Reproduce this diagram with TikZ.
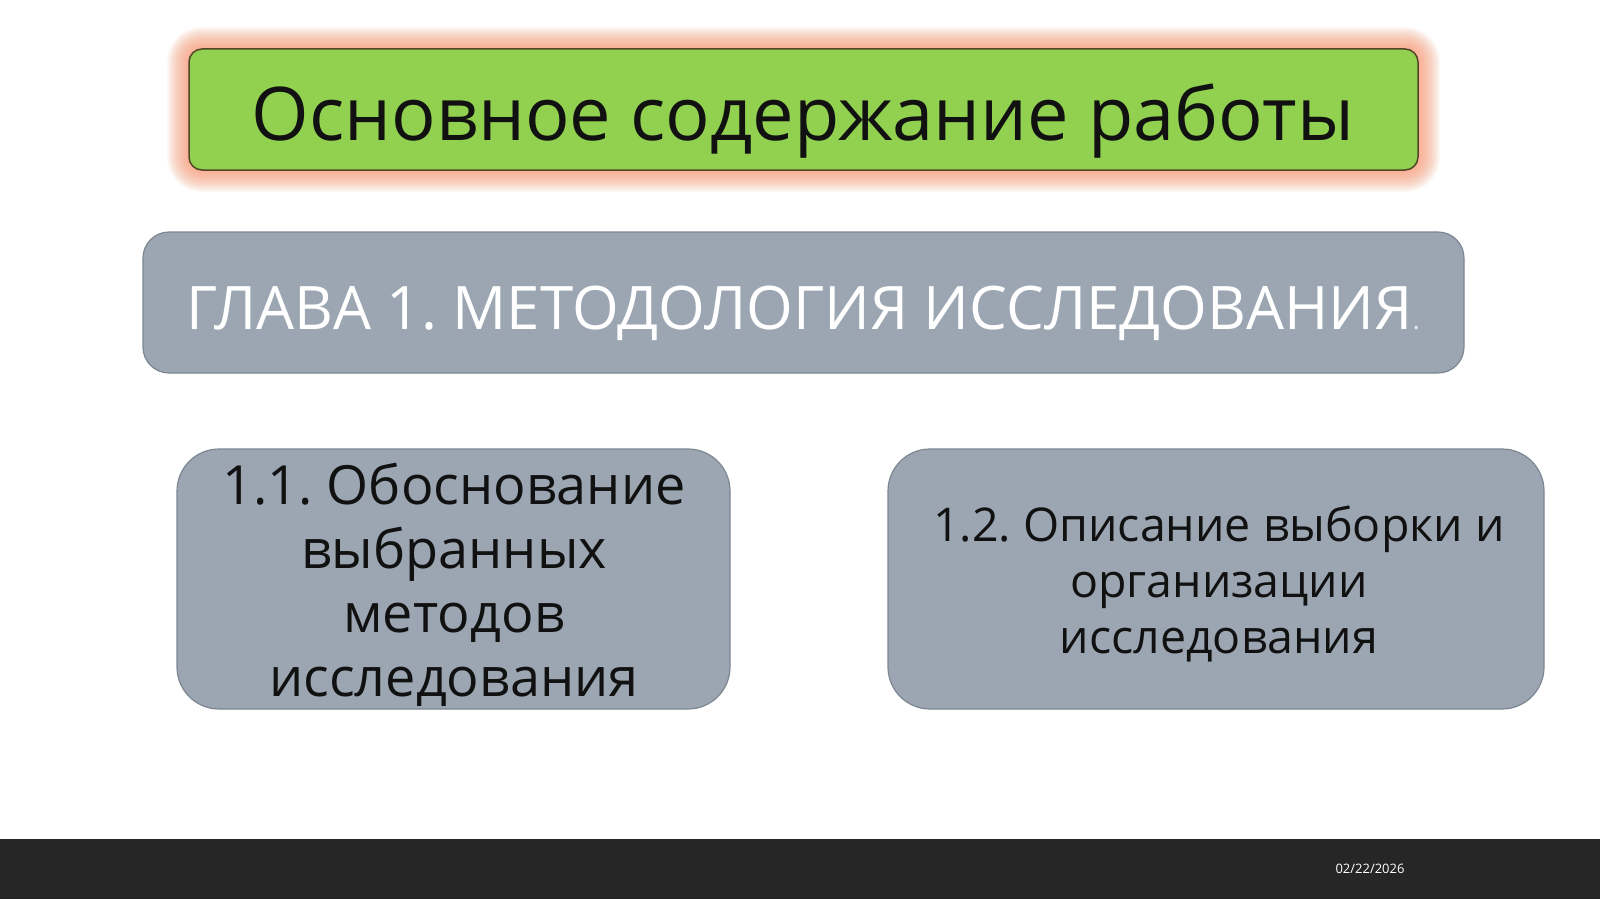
\documentclass[tikz,border=0pt]{standalone}
\usepackage{fontspec}
\setmainfont{Open Sans}
\frenchspacing
\definecolor{titlegreen}{RGB}{146,208,80}
\definecolor{titleborder}{RGB}{80,70,40}
\definecolor{glowc}{RGB}{248,150,112}
\definecolor{boxgray}{RGB}{155,166,178}
\definecolor{grayborder}{RGB}{125,135,146}
\definecolor{barcolor}{RGB}{38,38,38}
\definecolor{txtdark}{RGB}{17,17,17}
\begin{document}
\begin{tikzpicture}[x=1pt,y=-1pt]
\tikzset{
  greenbox/.style={draw=titleborder, fill=titlegreen, line width=1.5pt, rounded corners=13pt},
  graybox/.style={draw=grayborder, fill=boxgray, line width=1.2pt},
  titletext/.style={font=\fontsize{74}{90}\selectfont, text=txtdark, inner sep=0pt, anchor=base},
  chaptext/.style={font=\fontsize{60}{72}\selectfont, text=white, inner sep=0pt, anchor=base},
  subtextA/.style={font=\fontsize{54}{64}\selectfont, text=txtdark, inner sep=0pt, align=center, anchor=base},
  subtextB/.style={font=\fontsize{46.5}{56}\selectfont, text=txtdark, inner sep=0pt, align=center, anchor=base},
  datetext/.style={font=\fontsize{13}{15}\selectfont, text=white, inner sep=0pt, anchor=base}
}
\useasboundingbox (0,0) rectangle (1600,899);
\fill[white] (0,0) rectangle (1600,899);
% glow around title box
\foreach \i in {1,...,22}{
  \fill[glowc, fill opacity=0.05, rounded corners={13+\i}] ({189-\i},{49-\i}) rectangle ({1418+\i},{170+\i});
}
% title box
\draw[greenbox] (189,49) rectangle (1418,170);
\node[titletext] (title) at (803,140) {Основное содержание работы};
% chapter box
\draw[graybox, rounded corners=26pt] (143,232) rectangle (1464,373);
\node[chaptext] (chapter) at (803,329) {ГЛАВА 1. МЕТОДОЛОГИЯ ИССЛЕДОВАНИЯ{\fontsize{28}{28}\selectfont\color{white!80!gray}.}};
% sub boxes
\draw[graybox, rounded corners=42pt] (177,449) rectangle (730,709);
\draw[graybox, rounded corners=42pt] (888,449) rectangle (1544,709);
\node[subtextA] (secA) at (454,696) {1.1. Обоснование\\выбранных\\методов\\исследования};
\node[subtextB] (secB) at (1219,653) {1.2. Описание выборки и\\организации\\исследования};
% bottom bar
\fill[barcolor] (0,839) rectangle (1600,899);
\node[datetext] (date) at (1370,873) {02/22/2026};
\end{tikzpicture}
\end{document}
